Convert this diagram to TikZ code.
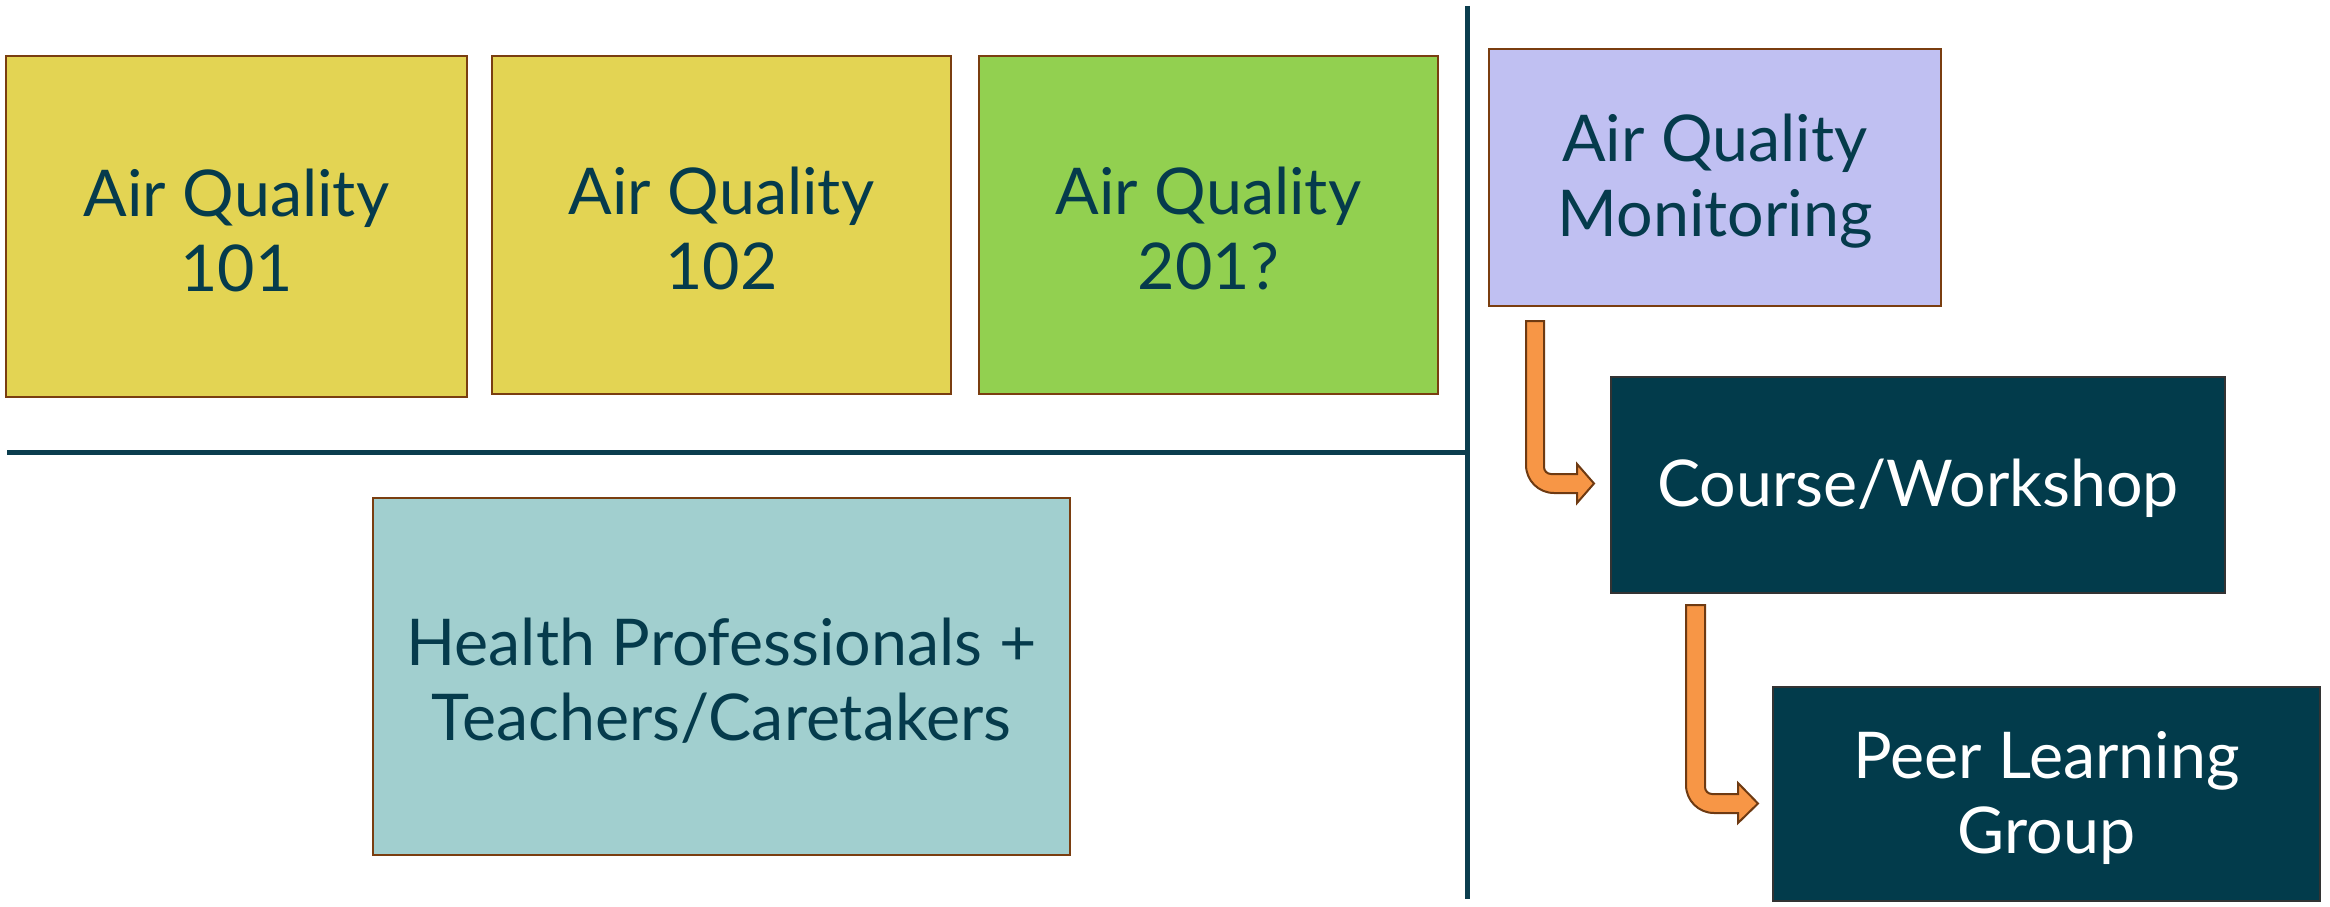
\documentclass[tikz,border=0pt]{standalone}
\usepackage{fontspec}
\setmainfont{Lato}
\definecolor{txt}{HTML}{053B4C}
\definecolor{rule}{HTML}{0B3D4E}
\definecolor{brd}{HTML}{7A3E10}
\definecolor{ylw}{HTML}{E3D453}
\definecolor{grn}{HTML}{92D050}
\definecolor{lav}{HTML}{C0C0F2}
\definecolor{ltl}{HTML}{A1CFCF}
\definecolor{dtl}{HTML}{023B4B}
\definecolor{org}{HTML}{F79646}
\definecolor{abrd}{HTML}{6E3A12}
\newcommand{\lowerstrut}{\rule{0pt}{55pt}}
\tikzset{
  box/.style={draw=brd, line width=2.5pt, inner sep=0pt, align=center, text=txt,
    font=\fontsize{64.5}{75}\selectfont},
  darkbox/.style={box, draw=black!80, line width=1.5pt, fill=dtl, text=white},
  rulebar/.style={draw=rule, line width=5pt},
  blockarrow/.style={fill=org, draw=abrd, line width=2pt, line join=miter}
}
\begin{document}
\begin{tikzpicture}[x=1pt,y=-1pt]
\useasboundingbox (0,0) rectangle (2330,907);
\node[box, fill=ylw, minimum width=461pt, minimum height=341pt] (a101) at (236.5,226.5) {\lowerstrut Air Quality\\101};
\node[box, fill=ylw, minimum width=459pt, minimum height=338pt] (a102) at (721.5,225) {\lowerstrut Air Quality\\102};
\node[box, fill=grn, minimum width=459pt, minimum height=338pt] (a201) at (1208.5,225) {\lowerstrut Air Quality\\201?};
\node[box, fill=lav, minimum width=452pt, minimum height=257pt] (mon) at (1715,177.5) {\lowerstrut Air Quality\\Monitoring};
\node[box, fill=ltl, minimum width=697pt, minimum height=357pt] (health) at (721.5,676.5) {\lowerstrut Health Professionals +\\Teachers/Caretakers};
\node[darkbox, minimum width=614pt, minimum height=216pt] (course) at (1918,485) {\lowerstrut Course/Workshop};
\node[darkbox, minimum width=547pt, minimum height=214pt] (peer) at (2046.5,794) {\lowerstrut Peer Learning\\Group};
% dividing rules
\coordinate (hl) at (7,452);
\coordinate (hr) at (1470,452);
\coordinate (vt) at (1467,6);
\coordinate (vb) at (1467,899);
\draw[rulebar] (hl) -- (hr);
\draw[rulebar] (vt) -- (vb);
% block arrows
\draw[blockarrow] (1526,321) -- (1544,321) -- (1544,467)
  .. controls (1544,470.9) and (1547.1,474) .. (1551,474) -- (1577,474) -- (1577,464)
  -- (1594,483.5) -- (1577,503) -- (1577,493) -- (1554,493)
  .. controls (1538.5,493) and (1526,480.5) .. (1526,465) -- cycle;
\draw[blockarrow] (1686,605) -- (1705,605) -- (1705,787)
  .. controls (1705,790.9) and (1708.1,794) .. (1712,794) -- (1738,794) -- (1738,783)
  -- (1758,803.5) -- (1738,823) -- (1738,813) -- (1714,813)
  .. controls (1698.5,813) and (1686,800.5) .. (1686,785) -- cycle;
\end{tikzpicture}
\end{document}
